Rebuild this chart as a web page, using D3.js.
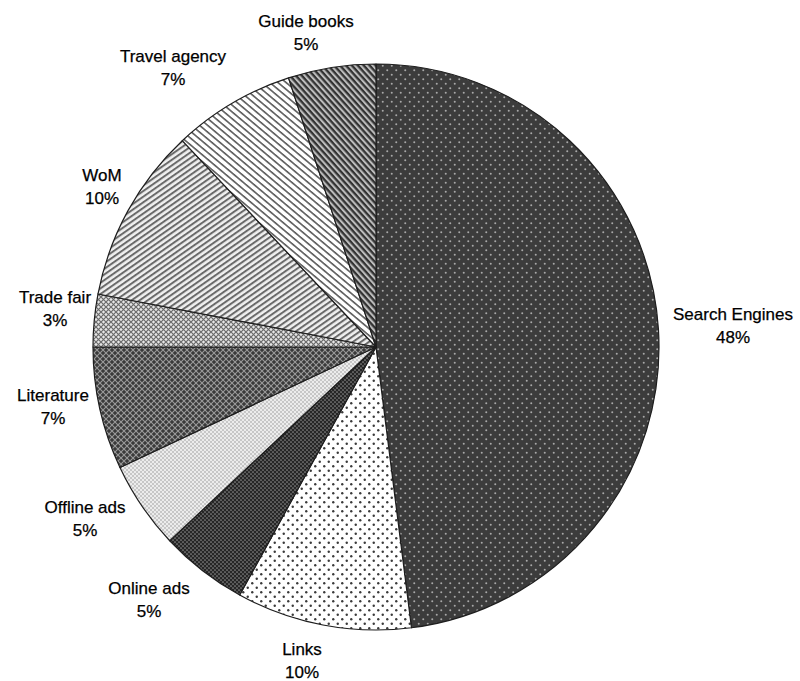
<!DOCTYPE html>
<html><head><meta charset="utf-8">
<script src="https://cdn.jsdelivr.net/npm/d3@7"></script>
<style>body{margin:0;background:#fff}svg{display:block}</style>
</head><body>
<script>
// ---- data ----
const categories = ["Search Engines","Links","Online ads","Offline ads","Literature","Trade fair","WoM","Travel agency","Guide books"];
const values = [48,10,5,5,7,3,10,7,5];
const valueLabels = ["48%","10%","5%","5%","7%","3%","10%","7%","5%"];

// ---- layout ----
const W = 800, H = 681, cx = 376, cy = 347, R = 283;
// label offsets (first baseline) relative to pie centre
const labelOffsets = [[357,-27],[-74,308],[-227,247],[-291,166],[-323,54],[-321,-44],[-274,-166],[-203,-285],[-70,-320]];

const svg = d3.select("body").append("svg").attr("width",W).attr("height",H);
const defs = svg.append("defs");

function dotPattern(id, bg, fg, size, r){
  const p = defs.append("pattern").attr("id",id).attr("patternUnits","userSpaceOnUse")
    .attr("width",size).attr("height",size);
  p.append("rect").attr("width",size).attr("height",size).attr("fill",bg);
  p.append("circle").attr("cx",size*0.25).attr("cy",size*0.25).attr("r",r).attr("fill",fg);
  p.append("circle").attr("cx",size*0.75).attr("cy",size*0.75).attr("r",r).attr("fill",fg);
}
function hatchPattern(id, bg, fg, size, sw){
  const p = defs.append("pattern").attr("id",id).attr("patternUnits","userSpaceOnUse")
    .attr("width",size).attr("height",size);
  p.append("rect").attr("width",size).attr("height",size).attr("fill",bg);
  p.append("path").attr("d",`M0,0L${size},${size}M${size},0L0,${size}`).attr("stroke",fg).attr("stroke-width",sw);
}
function stripePattern(id, bg, fg, size, sw, angle){
  const p = defs.append("pattern").attr("id",id).attr("patternUnits","userSpaceOnUse")
    .attr("width",size).attr("height",size).attr("patternTransform",`rotate(${angle})`);
  p.append("rect").attr("width",size).attr("height",size).attr("fill",bg);
  p.append("rect").attr("y",0).attr("width",size).attr("height",sw).attr("fill",fg);
}
dotPattern("p0","#3c3c3c","#a8a8a8",9,1.0);
dotPattern("p1","#ffffff","#3a3a3a",9,1.2);
dotPattern("p2","#262626","#8a8a8a",4,0.85);
dotPattern("p3","#ececec","#8f8f8f",4,0.75);
hatchPattern("p4","#3a3a3a","#9a9a9a",6,1.1);
hatchPattern("p5","#e6e6e6","#6a6a6a",5,1.2);
stripePattern("p6","#f0f0f0","#6a6a6a",4.6,2,-35);
stripePattern("p7","#ffffff","#5a5a5a",5.2,1.6,40);
stripePattern("p8","#bdbdbd","#333333",4.4,2.3,48);

const pie = d3.pie().sort(null).value(d=>d)(values);
const arc = d3.arc().innerRadius(0).outerRadius(R);

const g = svg.append("g").attr("transform",`translate(${cx},${cy})`);
g.selectAll("path").data(pie).join("path")
  .attr("d",arc)
  .attr("fill",(d,i)=>`url(#p${i})`)
  .attr("stroke","#1e1e1e").attr("stroke-width",1.2).attr("stroke-linejoin","round");

const lab = g.selectAll("text.lab").data(categories).join("text")
  .attr("class","lab")
  .attr("font-family","Arial, 'Liberation Sans', sans-serif")
  .attr("font-size",17).attr("fill","#000").attr("text-anchor","middle")
  .attr("stroke","#000").attr("stroke-width",0.25)
  .attr("transform",(d,i)=>`translate(${labelOffsets[i][0]},${labelOffsets[i][1]})`);
lab.append("tspan").attr("x",0).attr("y",0).text(d=>d);
lab.append("tspan").attr("x",0).attr("y",23).text((d,i)=>valueLabels[i]);
</script>
</body></html>
